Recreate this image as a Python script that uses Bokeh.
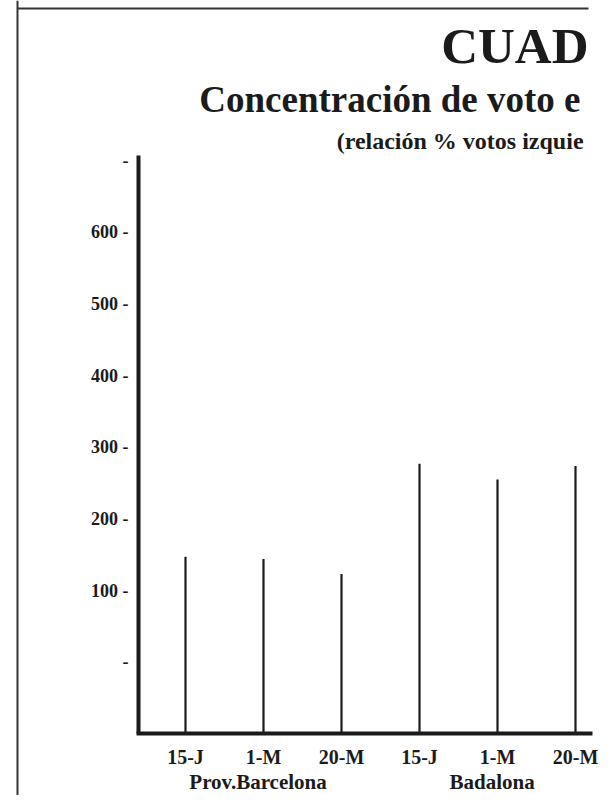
from bokeh.plotting import figure
from bokeh.models import Range1d, FixedTicker, Label, Span
from bokeh.embed import file_html
from bokeh.resources import INLINE

# ---- data ----
elections = ["15-J", "1-M", "20-M", "15-J", "1-M", "20-M"]
areas = ["Prov.Barcelona", "Badalona"]
area_members = [[0, 1, 2], [3, 4, 5]]
ratio = [147, 144, 123, 277, 255, 274]
y_ticks = [0, 100, 200, 300, 400, 500, 600, 700]
y_tick_labels = ["-", "100 -", "200 -", "300 -", "400 -", "500 -", "600 -", "-"]
baseline = -100
title_main = "CUAD"
title_sub = "Concentración de voto e"
title_note = "(relación % votos izquie"

INK = "#1b1b1b"
FONT = "Liberation Serif"

W, H = 606, 795
p = figure(width=W, height=H, output_backend="svg", toolbar_location=None,
           min_border=0, min_border_left=0, min_border_right=0,
           min_border_top=0, min_border_bottom=0,
           x_range=Range1d(-2.3718, 5.3974), y_range=Range1d(-186.3, 924.0))
p.outline_line_color = None
p.grid.visible = False
p.background_fill_color = "white"
p.border_fill_color = "white"

x_pos = list(range(len(elections)))

# bars (thin vertical strokes)
p.segment(x0=x_pos, y0=[baseline] * len(ratio), x1=x_pos, y1=ratio,
          line_width=2.2, line_color=INK)

# axes fixed inside the frame
xa = p.xaxis[0]
xa.fixed_location = baseline
xa.bounds = (-0.63, 5.22)
xa.ticker = FixedTicker(ticks=x_pos)
xa.major_label_overrides = {i: lab for i, lab in zip(x_pos, elections)}
xa.axis_line_width = 4
xa.axis_line_color = INK
xa.major_tick_line_color = None
xa.minor_tick_line_color = None
xa.major_label_standoff = 6
xa.major_label_text_font = FONT
xa.major_label_text_font_style = "bold"
xa.major_label_text_font_size = "20px"
xa.major_label_text_color = INK

ya = p.yaxis[0]
ya.fixed_location = -0.603
ya.bounds = (baseline, 708)
ya.ticker = FixedTicker(ticks=y_ticks)
ya.major_label_overrides = {t: lab for t, lab in zip(y_ticks, y_tick_labels)}
ya.axis_line_width = 4
ya.axis_line_color = INK
ya.major_tick_line_color = None
ya.minor_tick_line_color = None
ya.major_label_standoff = 4
ya.major_label_text_font = FONT
ya.major_label_text_font_style = "bold"
ya.major_label_text_font_size = "18px"
ya.major_label_text_color = INK

# group labels under the ticks
for name, members in zip(areas, area_members):
    cx = sum(members) / len(members)
    p.add_layout(Label(x=cx - 0.07, y=-168, text=name, text_align="center",
                       text_baseline="middle", text_font=FONT,
                       text_font_style="bold", text_font_size="21px",
                       text_color=INK))

# header
p.add_layout(Label(x=5.167, y=860, text=title_main, text_align="right",
                   text_baseline="middle", text_font=FONT,
                   text_font_style="bold", text_font_size="51px", text_color=INK))
p.add_layout(Label(x=5.064, y=786, text=title_sub, text_align="right",
                   text_baseline="middle", text_font=FONT,
                   text_font_style="bold", text_font_size="37px", text_color=INK))
p.add_layout(Label(x=5.103, y=728, text=title_note, text_align="right",
                   text_baseline="middle", text_font=FONT,
                   text_font_style="bold", text_font_size="24px", text_color=INK))

# page frame (left and top rules)
p.add_layout(Span(location=-2.154, dimension="height", line_color="#333333",
                  line_width=2))
p.segment(x0=[-2.154], y0=[912.8], x1=[5.167], y1=[912.8],
          line_color="#333333", line_width=2)

open("out.html", "w").write(file_html(p, INLINE))
